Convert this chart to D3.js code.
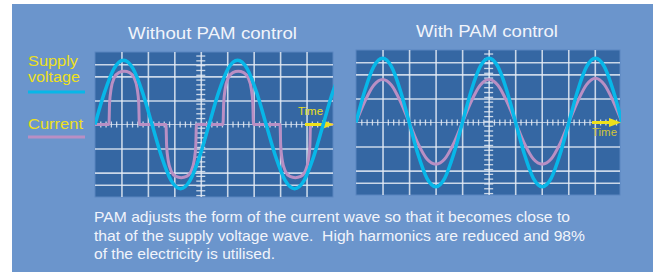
<!DOCTYPE html>
<html>
<head>
<meta charset="utf-8">
<script src="https://cdn.jsdelivr.net/npm/d3@7"></script>
<style>
  body { margin: 0; background: #fff; }
  svg { display: block; }
  text { font-family: "Liberation Sans", Arial, Helvetica, sans-serif; }
</style>
</head>
<body>
<svg width="657" height="272"></svg>
<script>
// phase of the supply voltage, degrees
const voltage_phase = [0, 30, 60, 90, 120, 150, 180, 210, 240, 270, 300, 330, 360,
    390, 420, 450, 480, 510, 540, 570, 600, 630, 660, 690, 720, 750, 780, 810, 840, 870, 900]
const supply_voltage = [0, 0.5, 0.87, 1, 0.87, 0.5, 0, -0.5, -0.87, -1, -0.87, -0.5, 0,
    0.5, 0.87, 1, 0.87, 0.5, 0, -0.5, -0.87, -1, -0.87, -0.5, 0, 0.5, 0.87, 1, 0.87, 0.5, 0]
const current_pam = [0, 0.33, 0.58, 0.67, 0.58, 0.33, 0, -0.33, -0.57, -0.65, -0.57, -0.33, 0,
    0.33, 0.58, 0.67, 0.58, 0.33, 0, -0.33, -0.57, -0.65, -0.57, -0.33, 0, 0.33, 0.59, 0.69, 0.59, 0.33, 0]

// current without PAM only flows near the voltage peaks
const pulse_phase = [0,
    44, 46, 51, 61, 75, 92, 109, 123, 133, 138, 140,
    224, 226, 231, 241, 255, 272, 289, 303, 313, 318, 320,
    404, 406, 411, 421, 435, 452, 469, 483, 493, 498, 500,
    584, 586, 591, 601, 615, 632, 649, 663, 673, 678, 680,
    751]
const current_no_pam = [0,
    0, 0.33, 0.56, 0.73, 0.81, 0.83, 0.81, 0.73, 0.56, 0.33, 0,
    0, -0.33, -0.56, -0.73, -0.81, -0.83, -0.81, -0.73, -0.56, -0.33, 0,
    0, 0.33, 0.56, 0.73, 0.81, 0.83, 0.81, 0.73, 0.56, 0.33, 0,
    0, -0.33, -0.56, -0.73, -0.81, -0.83, -0.81, -0.73, -0.56, -0.33, 0,
    0]

const grid_levels = [-0.94, -0.75, -0.375, 0.375, 0.75, 0.94]
const panel_titles = ["Without PAM control", "With PAM control"]
const legend_labels = ["Supply", "voltage", "Current"]
const time_label = "Time"
const caption_lines = [
    "PAM adjusts the form of the current wave so that it becomes close to",
    "that of the supply voltage wave.  High harmonics are reduced and 98%",
    "of the electricity is utilised.",
]

const colors = {
    back: "#6b95cc",
    screen: "#3567a3",
    grid: "#e4ebf5",
    voltage: "#08b7e8",
    current: "#b98fc4",
    yellow: "#eee01c",
    text: "#f1f4fb",
}

class Scope {
    constructor(svg, box, id) {
        this.box = box
        this.g = svg.append("g")
        this.x_div = d3.scaleLinear().domain([0, box.divisions]).range([box.x, box.x + box.w])
        this.x = d3.scaleLinear().domain([0, box.phase_max]).range([box.x, box.x + box.w])
        this.y = d3.scaleLinear().domain([-1.13, 1.13]).range([box.y + box.h, box.y])

        svg.append("clipPath").attr("id", id)
            .append("rect")
            .attr("x", box.x).attr("y", box.y - 4)
            .attr("width", box.w + 1).attr("height", box.h + 8)
        this.clip = `url(#${id})`

        this.g.append("rect")
            .attr("x", box.x).attr("y", box.y)
            .attr("width", box.w).attr("height", box.h)
            .attr("fill", colors.screen)
            .attr("stroke", "#5b86bf")
            .attr("stroke-width", 1)
    }

    draw_grid() {
        const { x, y, w, h, divisions, axis_div } = this.box
        const y0 = this.y(0)
        const ax = this.x_div(axis_div)
        const style = g => {
            g.select(".domain").remove()
            g.selectAll("text").remove()
            g.selectAll(".tick line").attr("stroke", colors.grid).attr("stroke-opacity", 0.85)
        }

        const v_grid = d3.range(1, Math.ceil(divisions)).filter(d => d < divisions)
        this.g.append("g")
            .attr("transform", `translate(0,${y + h})`)
            .call(d3.axisBottom(this.x_div).tickValues(v_grid).tickSize(-h).tickFormat(""))
            .call(style)
            .selectAll(".tick line").attr("stroke-width", 1.6)

        this.g.append("g")
            .attr("transform", `translate(${x},0)`)
            .call(d3.axisLeft(this.y).tickValues(grid_levels).tickSize(-w).tickFormat(""))
            .call(style)
            .selectAll(".tick line").attr("stroke-width", 1.6)

        // zero axis with small ticks
        this.g.append("line")
            .attr("x1", x).attr("x2", x + w)
            .attr("y1", y0).attr("y2", y0)
            .attr("stroke", colors.grid).attr("stroke-width", 1).attr("stroke-opacity", 0.7)

        const minor_x = d3.range(0, divisions, 0.2).filter(d => Math.abs(d - Math.round(d)) > 0.01)
        this.g.append("g")
            .attr("transform", `translate(0,${y0 + 3})`)
            .call(d3.axisBottom(this.x_div).tickValues(minor_x).tickSize(6).tickFormat(""))
            .call(style)
            .selectAll(".tick line").attr("stroke-width", 1.3)
            .attr("y1", -6).attr("y2", 0)

        const minor_y = d3.range(-1.1, 1.11, 0.075).filter(d => Math.abs(d) > 0.01)
        this.g.append("g")
            .attr("transform", `translate(${ax + 4.5},0)`)
            .call(d3.axisLeft(this.y).tickValues(minor_y).tickSize(9).tickFormat(""))
            .call(style)
            .selectAll(".tick line").attr("stroke-width", 1.3)
    }

    draw_wave(phase, values, color, width) {
        const line = d3.line()
            .x(d => this.x(d[0]))
            .y(d => this.y(d[1]))
            .curve(d3.curveMonotoneX)
        this.g.append("path")
            .datum(d3.zip(phase, values).filter(d => d[0] <= this.box.phase_max + 40))
            .attr("clip-path", this.clip)
            .attr("d", line)
            .attr("fill", "none")
            .attr("stroke", color)
            .attr("stroke-width", width)
            .attr("stroke-linejoin", "round")
    }

    draw_time_arrow(label_dx, label_y, label_color) {
        const x1 = this.box.x + this.box.w
        const x0 = x1 - 28
        const y0 = this.y(0)
        this.g.append("line")
            .attr("x1", x0).attr("x2", x1 - 8)
            .attr("y1", y0).attr("y2", y0)
            .attr("stroke", colors.yellow).attr("stroke-width", 3)
        this.g.append("path")
            .attr("d", `M${x1 - 11},${y0 - 4.5}L${x1 + 1},${y0}L${x1 - 11},${y0 + 4.5}Z`)
            .attr("fill", colors.yellow)
        this.g.append("text")
            .attr("x", x0 + label_dx).attr("y", label_y)
            .attr("font-size", 10.5)
            .attr("textLength", 25).attr("lengthAdjust", "spacingAndGlyphs")
            .attr("fill", label_color)
            .text(time_label)
    }
}

const svg = d3.select("svg")
svg.append("rect")
    .attr("x", 12).attr("y", 4).attr("width", 641).attr("height", 268)
    .attr("fill", colors.back)

const left = new Scope(svg, { x: 95, y: 52, w: 238, h: 145, divisions: 9, axis_div: 4, phase_max: 751 }, "clip-left")
left.draw_grid()
left.draw_wave(pulse_phase, current_no_pam, colors.current, 3)
left.draw_time_arrow(-7, 115, colors.yellow)
left.draw_wave(voltage_phase, supply_voltage, colors.voltage, 3.5)

const right = new Scope(svg, { x: 356, y: 50, w: 264, h: 145, divisions: 9.95, axis_div: 5, phase_max: 893 }, "clip-right")
right.draw_grid()
right.draw_wave(voltage_phase, current_pam, colors.current, 3)
right.draw_wave(voltage_phase, supply_voltage, colors.voltage, 3.5)
right.draw_time_arrow(0, 136, "#d2c43a")

// titles
svg.selectAll("text.title")
    .data(panel_titles)
    .enter()
    .append("text")
    .attr("class", "title")
    .attr("x", (d, i) => [212.5, 487][i])
    .attr("y", (d, i) => [39, 37][i])
    .attr("text-anchor", "middle")
    .attr("font-size", 16.5)
    .attr("textLength", (d, i) => [169, 142][i])
    .attr("lengthAdjust", "spacingAndGlyphs")
    .attr("fill", colors.text)
    .text(d => d)

// legend
svg.selectAll("text.legend")
    .data(legend_labels)
    .enter()
    .append("text")
    .attr("class", "legend")
    .attr("x", 28)
    .attr("y", (d, i) => [66, 82, 129][i])
    .attr("font-size", 15.5)
    .attr("textLength", (d, i) => [50, 52, 55][i])
    .attr("lengthAdjust", "spacingAndGlyphs")
    .attr("fill", colors.yellow)
    .text(d => d)

svg.append("line")
    .attr("x1", 28).attr("x2", 85).attr("y1", 92).attr("y2", 92)
    .attr("stroke", colors.voltage).attr("stroke-width", 3)
svg.append("line")
    .attr("x1", 28).attr("x2", 85).attr("y1", 137).attr("y2", 137)
    .attr("stroke", colors.current).attr("stroke-width", 3)

// caption
svg.selectAll("text.caption")
    .data(caption_lines)
    .enter()
    .append("text")
    .attr("class", "caption")
    .attr("x", 94)
    .attr("y", (d, i) => 222 + i * 18.5)
    .attr("font-size", 15)
    .attr("textLength", (d, i) => [476, 491, 181][i])
    .attr("lengthAdjust", "spacingAndGlyphs")
    .attr("fill", colors.text)
    .attr("xml:space", "preserve")
    .text(d => d)
</script>
</body>
</html>
